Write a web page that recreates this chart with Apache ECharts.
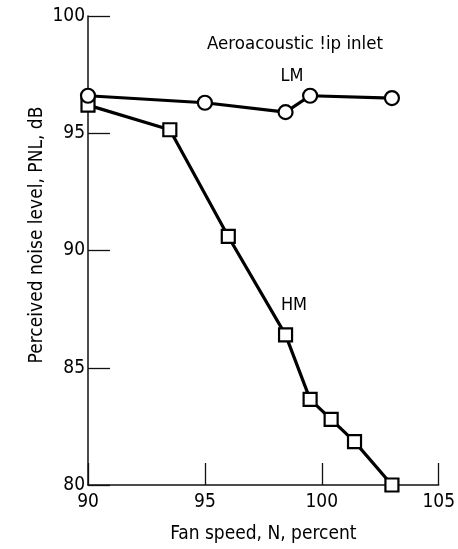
<!DOCTYPE html>
<html>
<head>
<meta charset="utf-8">
<script src="https://cdn.jsdelivr.net/npm/echarts@6/dist/echarts.min.js"></script>
<style>
  html, body { margin: 0; padding: 0; background: #fff; }
  #main { width: 458px; height: 549px; }
</style>
</head>
<body>
<div id="main"></div>
<script>
// fan speed (percent) vs perceived noise level (dB)
var lmSpeed = [90, 95, 98.45, 99.5, 103];
var lmPnl = [96.6, 96.3, 95.9, 96.6, 96.5];
var hmSpeed = [90, 93.5, 96, 98.45, 99.5, 100.4, 101.4, 103];
var hmPnl = [96.2, 95.15, 90.6, 86.4, 83.65, 82.8, 81.85, 80];
var xTicks = [90, 95, 100, 105];
var yTicks = [80, 85, 90, 95, 100];

var font = "'Liberation Sans Narrow', 'DejaVu Sans Condensed', 'Liberation Sans', sans-serif";

function pairs(xs, ys) {
  return xs.map(function (x, i) { return [x, ys[i]]; });
}

var chart = echarts.init(document.getElementById('main'));

var option = {
  animation: false,
  backgroundColor: '#fff',
  grid: { left: 88, top: 16, right: 12, bottom: 59 },
  xAxis: {
    type: 'value',
    min: xTicks[0],
    max: xTicks[xTicks.length - 1],
    interval: 5,
    name: 'Fan speed, N, percent',
    nameLocation: 'middle',
    nameGap: 40,
    nameTextStyle: { fontFamily: font, fontSize: 19, color: '#000' },
    axisLine: { lineStyle: { color: '#111', width: 1.5 } },
    axisTick: { inside: true, length: 22, lineStyle: { color: '#111', width: 1.3 } },
    axisLabel: { fontFamily: font, fontSize: 19, color: '#000', margin: 8 },
    splitLine: { show: false }
  },
  yAxis: {
    type: 'value',
    min: yTicks[0],
    max: yTicks[yTicks.length - 1],
    interval: 5,
    axisLine: { show: true, lineStyle: { color: '#111', width: 1.5 } },
    axisTick: { inside: true, length: 22, lineStyle: { color: '#111', width: 1.3 } },
    axisLabel: { fontFamily: font, fontSize: 19, color: '#000', margin: 3 },
    splitLine: { show: false }
  },
  graphic: [
    {
      type: 'text', x: 37, y: 235, rotation: Math.PI / 2,
      style: {
        text: 'Perceived noise level, PNL, dB',
        font: '19px ' + font, fill: '#000',
        textAlign: 'center', textVerticalAlign: 'middle'
      }
    },
    {
      type: 'text', x: 295, y: 44,
      style: {
        text: 'Aeroacoustic !ip inlet',
        font: '18.5px ' + font, fill: '#000',
        textAlign: 'center', textVerticalAlign: 'middle'
      }
    },
    {
      type: 'text', x: 292, y: 76,
      style: { text: 'LM', font: '18px ' + font, fill: '#000', textAlign: 'center', textVerticalAlign: 'middle' }
    },
    {
      type: 'text', x: 294, y: 305,
      style: { text: 'HM', font: '18px ' + font, fill: '#000', textAlign: 'center', textVerticalAlign: 'middle' }
    }
  ],
  series: [
    {
      name: 'LM',
      type: 'line',
      data: pairs(lmSpeed, lmPnl),
      clip: false,
      symbol: 'circle',
      symbolSize: 14,
      lineStyle: { color: '#000', width: 3.2 },
      itemStyle: { color: '#fff', borderColor: '#000', borderWidth: 2.2 },
      z: 3
    },
    {
      name: 'HM',
      type: 'line',
      data: pairs(hmSpeed, hmPnl),
      clip: false,
      symbol: 'rect',
      symbolSize: 13,
      lineStyle: { color: '#000', width: 3.2 },
      itemStyle: { color: '#fff', borderColor: '#000', borderWidth: 2.2 },
      z: 2
    }
  ]
};

chart.setOption(option);
</script>
</body>
</html>
